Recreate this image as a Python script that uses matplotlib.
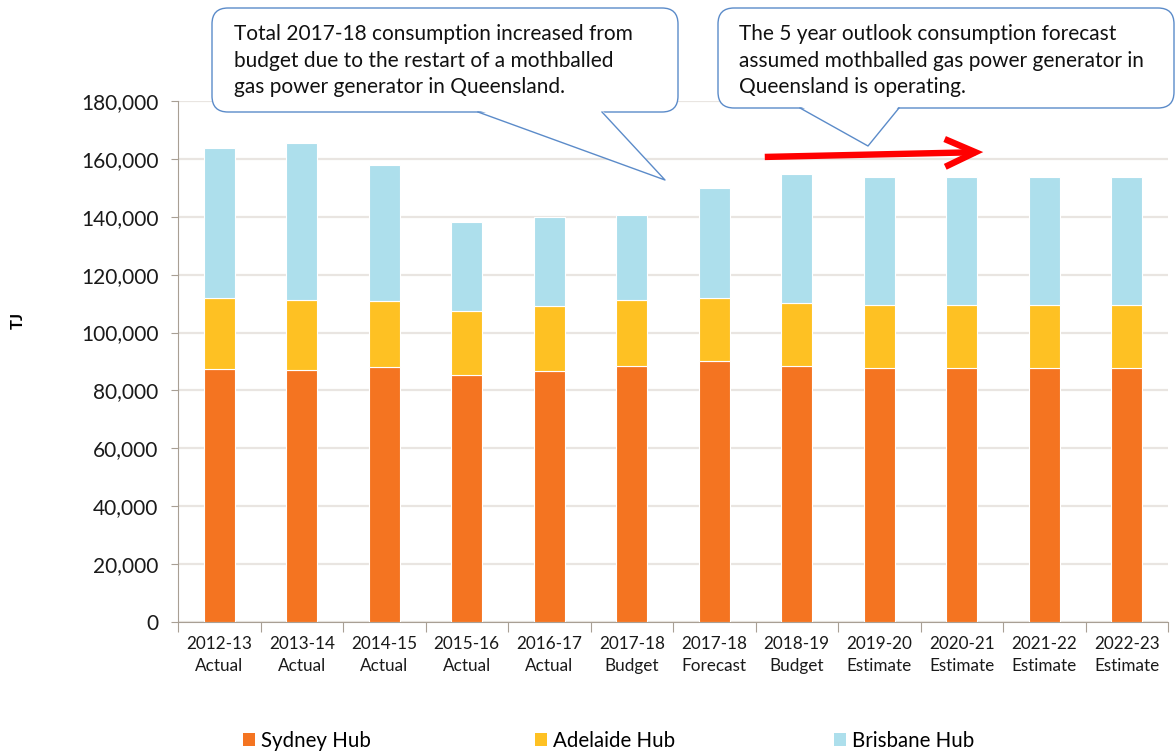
import matplotlib
matplotlib.use("Agg")
import matplotlib.pyplot as plt
import numpy as np
from matplotlib.patches import FancyBboxPatch, Polygon, FancyArrowPatch, Patch
from matplotlib.lines import Line2D
from matplotlib.transforms import IdentityTransform
from matplotlib.ticker import FuncFormatter

plt.rcParams['font.family'] = ['Lato', 'DejaVu Sans']

categories = ["2012-13\nActual", "2013-14\nActual", "2014-15\nActual", "2015-16\nActual",
              "2016-17\nActual", "2017-18\nBudget", "2017-18\nForecast", "2018-19\nBudget",
              "2019-20\nEstimate", "2020-21\nEstimate", "2021-22\nEstimate", "2022-23\nEstimate"]
sydney = [87500, 87100, 88200, 85200, 86700, 88600, 90100, 88500, 87700, 87700, 87700, 87700]
adelaide_top = [112000, 111300, 111000, 107600, 109300, 111300, 112100, 110300, 109500, 109500, 109500, 109500]
total = [163800, 165600, 157900, 138300, 140000, 140700, 150100, 154900, 153900, 153900, 153900, 153900]
adelaide = [a - s for a, s in zip(adelaide_top, sydney)]
brisbane = [t - a for t, a in zip(total, adelaide_top)]
series_names = ["Sydney Hub", "Adelaide Hub", "Brisbane Hub"]
colors = ["#F47421", "#FEC123", "#ADDFEC"]

W, H = 1176, 751
fig = plt.figure(figsize=(W / 100, H / 100), dpi=100)
ax = fig.add_axes([178 / W, 1 - 622 / H, (1168 - 178) / W, (622 - 101) / H])

x = np.arange(len(categories))
bw = 0.38
bottom = np.zeros(len(categories))
for vals, c in zip([sydney, adelaide, brisbane], colors):
    ax.bar(x, vals, bw, bottom=bottom, color=c, edgecolor="white", linewidth=0.8, zorder=3)
    bottom += np.array(vals)

ax.set_xlim(-0.5, len(categories) - 0.5)
ax.set_ylim(0, 180000)
ax.set_yticks(np.arange(0, 180001, 20000))
ax.yaxis.set_major_formatter(FuncFormatter(lambda v, p: f"{int(v):,}"))
ax.yaxis.grid(True, color="#E9E5E1", linewidth=1.6, zorder=0)
ax.set_axisbelow(True)
for s in ["top", "right"]:
    ax.spines[s].set_visible(False)
ax.spines["left"].set_color("#A89F94")
ax.spines["bottom"].set_color("#A89F94")
ax.tick_params(axis="y", length=5, color="#A89F94", labelsize=15, pad=9, labelcolor="#1a1a1a")
ax.set_xticks(np.arange(-0.5, len(categories), 1.0))
ax.set_xticklabels([])
ax.tick_params(axis="x", which="major", length=7, color="#A89F94")
ax.set_xticks(x, minor=True)
ax.set_xticklabels(categories, minor=True, fontsize=12.3, linespacing=1.5)
ax.tick_params(axis="x", which="minor", length=0, pad=10, labelcolor="#1a1a1a")

fig.text(18 / W, 1 - 320 / H, "TJ", rotation=90, fontsize=12, fontweight="bold",
         ha="center", va="center")

# legend
leg_pos = [245, 537, 836]
for name, c, px in zip(series_names, colors, leg_pos):
    lg = fig.legend(handles=[Patch(facecolor=c, edgecolor="none")], labels=[name],
                    loc="center left", bbox_to_anchor=(px / W - 0.002, 1 - 741 / H),
                    frameon=False, fontsize=14.8, handlelength=0.6, handleheight=0.6,
                    handletextpad=0.3, borderpad=0, borderaxespad=0)

# callouts (pixel coordinates, y from top)
T = IdentityTransform()
def py(y):
    return H - y

edge = "#5B8BC9"
def callout(x0, y0, x1, y1, tail, lines_text, tx, ty):
    box = FancyBboxPatch((x0, py(y1)), x1 - x0, y1 - y0,
                         boxstyle="round,pad=0,rounding_size=16",
                         transform=T, facecolor="white", edgecolor=edge, linewidth=1.0, zorder=10)
    fig.add_artist(box)
    (bx0, by), (tipx, tipy), (bx1, _) = tail
    poly = Polygon([(bx0, py(by - 2)), (tipx, py(tipy)), (bx1, py(by - 2))], closed=True,
                   transform=T, facecolor="white", edgecolor="none", zorder=11)
    fig.add_artist(poly)
    fig.add_artist(Line2D([bx0, tipx, bx1], [py(by), py(tipy), py(by)], transform=T,
                          color=edge, linewidth=1.0, zorder=12))
    fig.text(tx / W, 1 - ty / H, lines_text, fontsize=15, ha="left", va="top",
             linespacing=1.42, zorder=13, color="#111111")

callout(212, 8, 678, 112, [(478, 112), (665, 180), (602, 112)],
        "Total 2017-18 consumption increased from\nbudget due to the restart of a mothballed\ngas power generator in Queensland.",
        234, 24)
callout(718, 8, 1174, 108, [(800, 108), (868, 146), (899, 108)],
        "The 5 year outlook consumption forecast\nassumed mothballed gas power generator in\nQueensland is operating.",
        739, 24)

arrow = FancyArrowPatch((762, py(157)), (986, py(152)), transform=T,
                        arrowstyle="->,head_length=22,head_width=10",
                        color="#FF0000", linewidth=4.6, mutation_scale=1,
                        capstyle="butt", joinstyle="miter", zorder=14)
fig.add_artist(arrow)

fig.savefig("out.png", dpi=100)
